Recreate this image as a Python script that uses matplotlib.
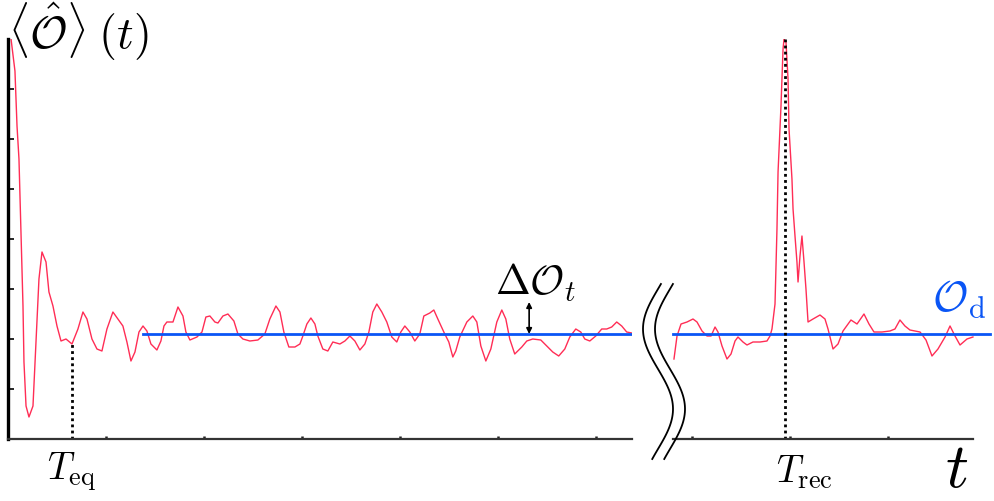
import numpy as np
import matplotlib
matplotlib.use('Agg')
import matplotlib.pyplot as plt
from matplotlib.lines import Line2D

plt.rcParams['mathtext.fontset'] = 'cm'

# early-time signal (left panel)
t_left = [0.31, 0.71, 0.92, 1.12, 1.33, 1.53, 1.63, 1.84, 2.14, 2.55, 2.86, 3.16, 3.47, 3.88,
          4.18, 4.59, 5.00, 5.41, 5.92, 6.53, 7.14, 7.65, 8.06, 8.57, 9.08, 9.59, 10.10, 10.71,
          11.22, 11.73, 12.14, 12.55, 12.96, 13.37, 13.78, 14.18, 14.59, 15.20, 15.61, 15.92,
          16.22, 16.84, 17.35, 17.86, 18.16, 18.57, 19.29, 19.80, 20.20, 20.61, 21.12, 21.43,
          21.94, 22.45, 23.06, 23.47, 23.98, 24.69, 25.51, 26.22, 26.73, 27.35, 27.76, 28.16,
          28.67, 29.29, 29.80, 30.10, 30.51, 30.92, 31.33, 31.63, 32.14, 32.65, 33.16, 33.88,
          34.39, 34.90, 35.41, 35.92, 36.43, 36.84, 37.24, 37.65, 38.16, 38.67, 39.18, 39.69,
          40.10, 40.51, 41.02, 41.53, 42.04, 42.45, 43.06, 43.47, 43.88, 44.49, 45.00, 45.41,
          45.71, 46.12, 46.84, 47.45, 47.86, 48.27, 48.78, 49.29, 49.90, 50.41, 50.82, 51.22,
          51.73, 52.45, 52.96, 53.57, 54.39, 55.00, 55.61, 56.22, 56.84, 57.35, 57.96, 58.47,
          58.88, 59.39, 60.00, 60.61, 61.12, 61.63, 62.14, 62.65, 63.16, 63.67]
o_left = [8.00, 7.36, 6.26, 5.60, 4.06, 2.66, 1.54, 0.66, 0.44, 0.66, 1.94, 3.20, 3.74, 3.54,
          2.94, 2.66, 2.26, 1.96, 2.00, 1.90, 2.20, 2.54, 2.40, 2.00, 1.80, 1.76, 2.20, 2.54,
          2.40, 2.26, 1.94, 1.56, 1.74, 2.14, 2.26, 2.16, 1.90, 1.78, 1.96, 2.26,
          2.34, 2.34, 2.64, 2.46, 2.14, 1.98, 2.04, 2.14, 2.44, 2.46, 2.34, 2.32,
          2.46, 2.50, 2.36, 2.10, 2.00, 1.96, 1.98, 2.10, 2.40, 2.66, 2.54, 2.14,
          1.84, 1.84, 1.90, 2.06, 2.30, 2.42, 2.30, 2.06, 1.80, 1.76, 1.94, 1.90,
          1.96, 2.06, 1.96, 1.78, 1.90, 2.14, 2.54, 2.70, 2.54, 2.34, 2.04, 1.94,
          2.14, 2.26, 2.14, 1.96, 2.10, 2.46, 2.52, 2.58, 2.40, 2.14, 1.94, 1.64,
          1.76, 2.04, 2.34, 2.46, 2.34, 1.86, 1.56, 1.80, 2.34, 2.58, 2.40, 2.00,
          1.70, 1.84, 1.96, 2.00, 1.98, 1.86, 1.74, 1.66, 1.80, 2.04, 2.20, 2.14,
          2.00, 1.96, 2.06, 2.20, 2.20, 2.24, 2.34, 2.26, 2.14, 2.12]

# late-time signal with recurrence (right panel)
t_right = [198.16, 198.47, 198.88, 199.49, 200.10, 200.51, 201.02, 201.53, 201.94, 202.35,
           202.65, 203.06, 203.57, 203.98, 204.39, 204.69, 205.20, 205.61, 206.22, 206.94,
           207.65, 207.96, 208.16, 208.47, 208.67, 208.78, 209.08, 209.29, 209.39, 209.59,
           209.80, 209.90, 210.20, 210.31, 210.51, 210.71, 210.82, 211.02, 211.22, 211.43,
           211.63, 211.84, 212.35, 213.06, 213.57, 213.88, 214.39, 214.90, 215.41, 216.22,
           216.84, 217.55, 218.06, 218.57, 219.39, 220.20, 220.71, 221.22, 221.73, 222.24,
           223.27, 223.88, 224.49, 225.10, 225.82, 226.33, 226.84, 227.35, 228.06, 228.67]
o_right = [1.60, 2.06, 2.30, 2.34, 2.40, 2.34, 2.16, 2.06, 2.06, 2.24,
           2.14, 1.86, 1.60, 1.70, 1.96, 2.04, 1.94, 1.88, 1.94, 1.94,
           1.96, 2.06, 2.20, 2.70, 4.20, 5.34, 6.66, 7.80, 8.00, 7.94,
           7.20, 6.20, 5.20, 4.60, 4.06, 3.54, 3.14, 3.66, 4.06, 3.54,
           3.00, 2.34, 2.40, 2.48, 2.40, 2.20, 1.80, 1.90, 2.16, 2.38,
           2.30, 2.50, 2.30, 2.14, 2.14, 2.16, 2.20, 2.38, 2.26, 2.18,
           2.14, 1.98, 1.66, 1.80, 2.04, 2.26, 2.06, 1.88, 2.00, 2.04]

O_d = 2.1
t_d_start = 13.78
T_eq, O_eq = 6.53, 1.9
T_rec, O_rec = 209.45, 8.0
dO_t, dO_top = 53.2, 2.74

left_xticks = [10, 20, 30, 40, 50, 60]
right_xticks = [200, 210, 220]
yticks = [1, 2, 3, 4, 5, 6, 7]

RED = '#ff2d55'
BLUE = '#0a55f5'

W, H = 995, 502
fig = plt.figure(figsize=(W / 100, H / 100), dpi=100)
ax1 = fig.add_axes([8 / W, 62 / H, 624 / W, 400 / H])
ax2 = fig.add_axes([673 / W, 62 / H, 317 / W, 400 / H])

for ax in (ax1, ax2):
    ax.set_ylim(0, 8)
    ax.patch.set_alpha(0)
    for s in ('top', 'right'):
        ax.spines[s].set_visible(False)
    ax.spines['bottom'].set_color('#333333')
    ax.spines['bottom'].set_linewidth(1.6)
    ax.tick_params(axis='x', direction='in', length=2.5, width=1.8,
                   color='#222222', labelbottom=False)

ax1.set_xlim(0, 63.7)
ax1.spines['left'].set_linewidth(2.4)
ax1.spines['left'].set_color('black')
ax1.set_xticks(left_xticks)
ax1.set_yticks(yticks)
ax1.tick_params(axis='y', direction='in', length=4, width=1.2, labelleft=False)

ax2.set_xlim(198.06, 230.41)
ax2.spines['left'].set_visible(False)
ax2.spines['bottom'].set_bounds(198.06, 228.67)
ax2.set_xticks(right_xticks)
ax2.set_yticks([])

ax1.plot(t_left, o_left, color=RED, lw=1.0)
ax2.plot(t_right, o_right, color=RED, lw=1.0)
ax1.plot([t_d_start, 63.7], [O_d, O_d], color=BLUE, lw=2.0)
ax2.plot([198.06, 230.41], [O_d, O_d], color=BLUE, lw=2.0, clip_on=False)

ax1.plot([T_eq, T_eq], [0, O_eq], color='black', ls=(0, (1, 1.2)), lw=2.0)
ax2.plot([T_rec, T_rec], [0, O_rec], color='black', ls=(0, (1, 1.2)), lw=2.0)

ax1.annotate('', xy=(dO_t, dO_top), xytext=(dO_t, O_d),
             arrowprops=dict(arrowstyle='<|-|>', color='black', lw=1.2,
                             mutation_scale=8, shrinkA=0, shrinkB=0))

ax1.text(53.9, 3.14, r'$\Delta\mathcal{O}_t$', fontsize=30, ha='center', va='center')
ax2.text(227.2, 2.8, r'$\mathcal{O}_{\mathrm{d}}$', fontsize=31, ha='center',
         va='center', color=BLUE)
ax1.text(T_eq, -0.08, r'$T_{\mathrm{eq}}$', fontsize=27, ha='center', va='center',
         transform=ax1.get_xaxis_transform())
ax2.text(208.55, -0.08, r'$T_{\mathrm{rec}}$', fontsize=27, ha='left', va='center',
         transform=ax2.get_xaxis_transform())

fig.text(8 / W, 1 - 32 / H, r'$\langle\hat{\mathcal{O}}\rangle\;(t)$', fontsize=33,
         ha='left', va='center')
fig.text(957 / W, 2 / H, r'$t$', fontsize=46, ha='center', va='bottom')

# axis break marks
yy = np.linspace(285, 460, 80)
xx = 658 - 15 * np.cos(np.pi * (yy - 330) / 80)
for dx in (0, 12):
    fig.add_artist(Line2D((xx + dx) / W, 1 - yy / H, transform=fig.transFigure,
                          color='black', lw=1.3))

fig.savefig('out.png', dpi=100)
